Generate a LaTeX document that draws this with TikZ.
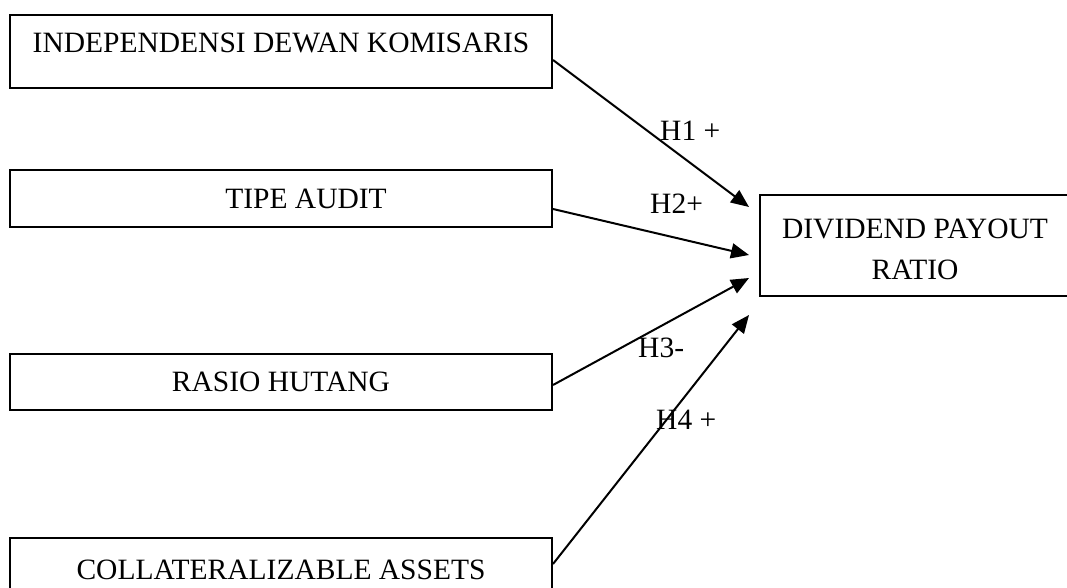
\documentclass[tikz,border=0pt]{standalone}
\usepackage{fontspec}
\setmainfont{Liberation Serif}
\usetikzlibrary{arrows.meta}
\begin{document}
\begin{tikzpicture}[x=1pt,y=-1pt,
  every node/.style={font=\fontsize{29.5}{41}\selectfont},
  varbox/.style={draw,line width=2pt,rectangle,inner sep=0pt,minimum width=542pt},
  arr/.style={line width=2pt,-{Triangle[length=18pt,width=15pt]}},
  hyp/.style={inner sep=0pt,anchor=base west}]
\useasboundingbox (0,0) rectangle (1067,588);
% variable boxes
\node[varbox,anchor=base,text height=38pt,text depth=35pt] (b1) at (281,53) {INDEPENDENSI DEWAN KOMISARIS};
\node[varbox,minimum height=57pt] (b2) at (281,198.5) {\hspace*{50pt}TIPE AUDIT};
\node[varbox,minimum height=56pt] (b3) at (281,382) {RASIO HUTANG};
\node[varbox,anchor=base,text height=41pt,text depth=30pt] (b4) at (281,579) {COLLATERALIZABLE ASSETS};
% dependent box
\node[draw,line width=2pt,rectangle,inner sep=0pt,minimum width=310pt,minimum height=101pt,align=center] (dpr) at (915,245.5) {\rule{0pt}{28pt}DIVIDEND PAYOUT\\RATIO};
% arrow tips
\coordinate (t1) at (749,207);
\coordinate (t2) at (749,255);
\coordinate (t3) at (749,278);
\coordinate (t4) at (749,315);
\draw[arr] ([yshift=-8.5pt]b1.east) -- (t1);
\draw[arr] ([yshift=-10.5pt]b2.east) -- (t2);
\draw[arr] ([yshift=-3pt]b3.east) -- (t3);
\draw[arr] ([yshift=-27pt]b4.north east) -- (t4);
% labels
\node[hyp] (h1) at (660,141) {H1 +};
\node[hyp] (h2) at (650,213) {H2+};
\node[hyp] (h3) at (638,357) {H3-};
\node[hyp] (h4) at (656,429) {H4 +};
\end{tikzpicture}
\end{document}
